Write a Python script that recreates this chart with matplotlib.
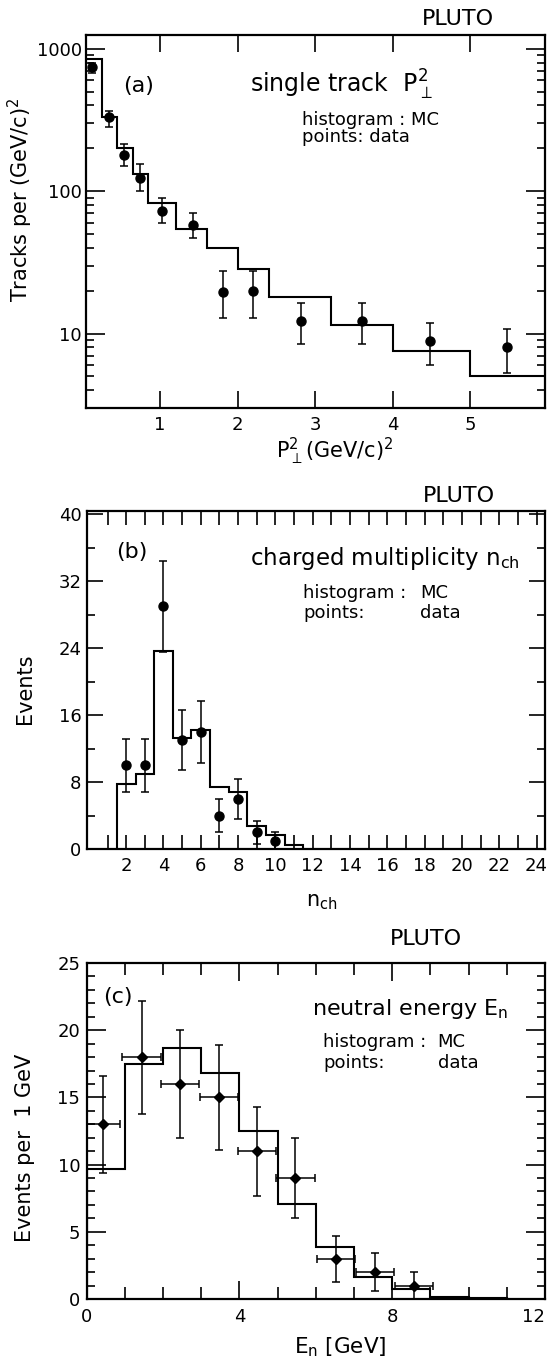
import matplotlib
matplotlib.use("Agg")
import matplotlib.pyplot as plt
from matplotlib.ticker import LogLocator, NullFormatter

plt.rcParams['font.family'] = ['DejaVu Sans']
plt.rcParams['mathtext.default'] = 'regular'

# ---- (a) single track transverse momentum squared ----
pt2_edges = [0.05, 0.25, 0.45, 0.65, 0.85, 1.2, 1.6, 2.0, 2.4, 3.2, 4.0, 5.0, 6.0]
pt2_mc = [850, 330, 200, 132, 82, 54, 40, 28.5, 18, 11.4, 7.6, 5.0]
pt2_x = [0.13, 0.34, 0.54, 0.74, 1.03, 1.42, 1.81, 2.2, 2.82, 3.6, 4.48, 5.47]
pt2_data = [740, 330, 180, 123, 73, 58, 19.6, 19.8, 12.2, 12.3, 8.8, 8.0]
pt2_err_lo = [62, 47, 29, 22.5, 13.5, 11.4, 6.7, 6.9, 3.8, 3.9, 2.8, 2.7]
pt2_err_hi = [58, 37, 33, 32, 17, 12.8, 7.8, 7.6, 4.3, 4.2, 3.1, 2.8]

# ---- (b) charged multiplicity ----
nch_edges = [1.5, 2.5, 3.5, 4.5, 5.5, 6.5, 7.5, 8.5, 9.5, 10.5, 11.5]
nch_mc = [7.8, 9.0, 23.7, 13.3, 14.2, 7.4, 6.8, 2.8, 1.7, 0.5]
nch_x = [2, 3, 4, 5, 6, 7, 8, 9, 10]
nch_data = [10, 10, 29, 13, 14, 4, 6, 2, 1]
nch_err = [3.2, 3.2, 5.4, 3.6, 3.7, 2.0, 2.4, 1.4, 1.0]

# ---- (c) neutral energy ----
en_edges = [0, 1, 2, 3, 4, 5, 6, 7, 8, 9, 10, 11]
en_mc = [9.7, 17.5, 18.7, 16.8, 12.5, 7.1, 3.9, 1.6, 0.75, 0.12, 0.05]
en_x = [0.42, 1.44, 2.45, 3.46, 4.47, 5.47, 6.52, 7.56, 8.58]
en_data = [13, 18, 16, 15, 11, 9, 3, 2, 1]
en_xerr = [0.45, 0.5, 0.5, 0.5, 0.5, 0.5, 0.5, 0.5, 0.5]
en_err = [3.6, 4.2, 4.0, 3.9, 3.3, 3.0, 1.7, 1.4, 1.0]

W, H = 549, 1359
fig = plt.figure(figsize=(W / 100, H / 100), dpi=100)


def axes_px(left, top, right, bottom):
    return fig.add_axes([left / W, 1 - bottom / H, (right - left) / W, (bottom - top) / H])


def frame(ax):
    for s in ax.spines.values():
        s.set_linewidth(1.6)
    ax.tick_params(axis='both', which='both', direction='in', top=True,
                   right=True, width=1.2, labelsize=13, color='black')


HIST = dict(color='black', linewidth=1.5, zorder=2)
ERR = dict(color='black', ecolor='black', elinewidth=1.1, capsize=3,
           capthick=1.1, linestyle='none', zorder=3)

# ================= (a) =================
ax = axes_px(86, 35, 545, 408)
frame(ax)
ax.set_yscale('log')
ax.stairs(pt2_mc, pt2_edges, baseline=None, **HIST)
ax.errorbar(pt2_x, pt2_data, yerr=[pt2_err_lo, pt2_err_hi], fmt='o', ms=6.5, **ERR)
ax.set_xlim(0.047, 5.96)
ax.set_ylim(3.0, 1250)
ax.set_xticks([1, 2, 3, 4, 5])
ax.set_yticks([10, 100, 1000], labels=['10', '100', '1000'])
ax.yaxis.set_minor_locator(LogLocator(base=10, subs=[2, 3, 4, 5, 6, 7, 8, 9], numticks=20))
ax.yaxis.set_minor_formatter(NullFormatter())
ax.tick_params(axis='x', which='major', length=12, pad=5.5)
ax.tick_params(axis='y', which='major', length=13.5, pad=3)
ax.tick_params(axis='y', which='minor', length=6)
ax.set_xlabel(r'$P_{\perp}^{2}$(GeV/c)$^{2}$', fontsize=15)
ax.xaxis.set_label_coords(0.542, -0.075)
ax.set_ylabel('Tracks per (GeV/c)$^{2}$', fontsize=15)
ax.yaxis.set_label_coords(-0.111, 0.558)
ax.text(0.115, 0.863, '(a)', transform=ax.transAxes, fontsize=16, ha='center', va='center')
ax.text(0.357, 0.845, r'single track  $P_{\perp}^{2}$', transform=ax.transAxes,
        fontsize=17, ha='left', va='baseline')
ax.text(0.471, 0.759, 'histogram : MC', transform=ax.transAxes, fontsize=13,
        ha='left', va='baseline')
ax.text(0.471, 0.714, 'points: data', transform=ax.transAxes, fontsize=13,
        ha='left', va='baseline')
fig.text(458 / W, 1 - 25 / H, 'PLUTO', fontsize=16, ha='center', va='baseline')

# ================= (b) =================
ax = axes_px(87, 511, 545, 849)
frame(ax)
ax.stairs(nch_mc, nch_edges, baseline=0, **HIST)
ax.errorbar(nch_x, nch_data, yerr=nch_err, fmt='o', ms=6.5, **ERR)
ax.set_xlim(-0.1, 24.45)
ax.set_ylim(0, 40.4)
ax.set_xticks(list(range(2, 25, 2)))
ax.set_xticks(list(range(1, 24, 2)), minor=True)
ax.set_yticks(list(range(0, 41, 8)))
ax.set_yticks(list(range(4, 40, 8)), minor=True)
ax.tick_params(axis='x', which='both', length=10, pad=5.5)
ax.tick_params(axis='y', which='major', length=11.5, pad=4)
ax.tick_params(axis='y', which='minor', length=5.8)
ax.set_xlabel('n$_{ch}$', fontsize=15)
ax.xaxis.set_label_coords(0.513, -0.128)
ax.set_ylabel('Events', fontsize=15)
ax.yaxis.set_label_coords(-0.114, 0.473)
ax.text(0.098, 0.879, '(b)', transform=ax.transAxes, fontsize=16, ha='center', va='center')
ax.text(0.356, 0.840, 'charged multiplicity n$_{ch}$', transform=ax.transAxes,
        fontsize=16.5, ha='left', va='baseline')
ax.text(0.472, 0.742, 'histogram :', transform=ax.transAxes, fontsize=13,
        ha='left', va='baseline')
ax.text(0.727, 0.742, 'MC', transform=ax.transAxes, fontsize=13, ha='left', va='baseline')
ax.text(0.472, 0.683, 'points:', transform=ax.transAxes, fontsize=13,
        ha='left', va='baseline')
ax.text(0.727, 0.683, 'data', transform=ax.transAxes, fontsize=13, ha='left', va='baseline')
fig.text(459 / W, 1 - 501.7 / H, 'PLUTO', fontsize=16, ha='center', va='baseline')

# ================= (c) =================
ax = axes_px(86.5, 963, 545, 1299)
frame(ax)
ax.stairs(en_mc, en_edges, baseline=0, **HIST)
ax.errorbar(en_x, en_data, xerr=en_xerr, yerr=en_err, fmt='D', ms=5, **ERR)
ax.set_xlim(0, 12)
ax.set_ylim(0, 25)
ax.set_xticks([0, 4, 8, 12])
ax.set_xticks(list(range(0, 13)), minor=True)
ax.set_yticks(list(range(0, 26, 5)))
ax.set_yticks(list(range(0, 26)), minor=True)
ax.tick_params(axis='x', which='major', length=13, pad=6.5)
ax.tick_params(axis='x', which='minor', length=8.5)
ax.tick_params(axis='y', which='major', length=14, pad=4.5)
ax.tick_params(axis='y', which='minor', length=5.8)
# keep the last energy label inside the figure edge
ax.xaxis.get_major_ticks()[-1].label1.set_horizontalalignment('right')
ax.set_xlabel('E$_{n}$ [GeV]', fontsize=15.5)
ax.xaxis.set_label_coords(0.553, -0.107)
ax.set_ylabel('Events per  1 GeV', fontsize=15)
ax.yaxis.set_label_coords(-0.112, 0.449)
ax.text(0.069, 0.900, '(c)', transform=ax.transAxes, fontsize=16, ha='center', va='center')
ax.text(0.491, 0.845, 'neutral energy E$_{n}$', transform=ax.transAxes,
        fontsize=16, ha='left', va='baseline')
ax.text(0.516, 0.751, 'histogram :', transform=ax.transAxes, fontsize=13,
        ha='left', va='baseline')
ax.text(0.764, 0.751, 'MC', transform=ax.transAxes, fontsize=13, ha='left', va='baseline')
ax.text(0.516, 0.687, 'points:', transform=ax.transAxes, fontsize=13,
        ha='left', va='baseline')
ax.text(0.767, 0.687, 'data', transform=ax.transAxes, fontsize=13, ha='left', va='baseline')
fig.text(426 / W, 1 - 945 / H, 'PLUTO', fontsize=16, ha='center', va='baseline')

fig.savefig('out.png', dpi=100)
